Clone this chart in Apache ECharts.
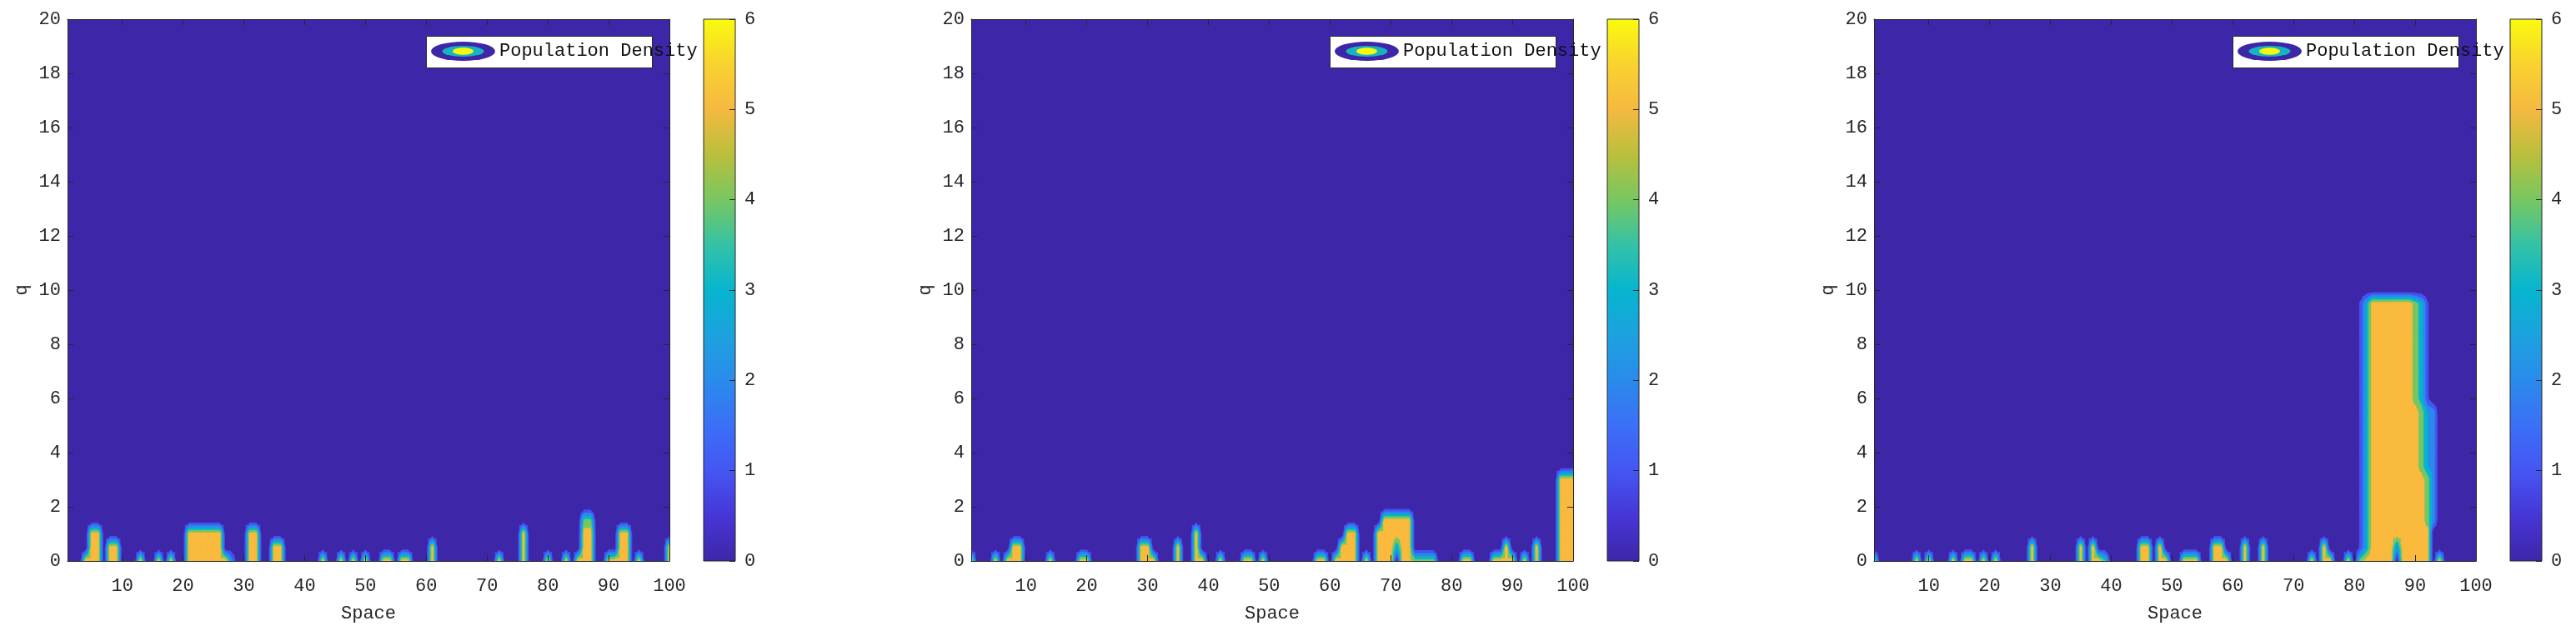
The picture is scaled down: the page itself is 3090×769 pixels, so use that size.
<!DOCTYPE html>
<html>
<head>
  <meta charset="utf-8">
  <title>Population Density</title>
  <script src="https://cdn.jsdelivr.net/npm/echarts@6/dist/echarts.min.js"></script>
</head>
<body style="margin:0;background:#fff;">
<div id="main" style="width:3090px;height:769px;"></div>
<script type="text/javascript">
  // grid of the density field: space 1..100 (step 1), q 0..20 (step 0.5)
  var spaceMin = 1, spaceMax = 100, spaceStep = 1;
  var qMin = 0, qMax = 20, qStep = 0.5;
  var spaceTicks = [10, 20, 30, 40, 50, 60, 70, 80, 90, 100];
  var qInterval = 2;
  var colorbarMin = 0, colorbarMax = 6;
  var contourLevels = [1, 2, 3, 4, 5];
  var levelColors = ['#4556F2', '#2A8BEB', '#06B5CF', '#78C760', '#FBBA3D'];

  // density columns: space position, then values at q = 0, 0.5, 1.0, ...
  var panel1Space = [4, 5, 6, 8, 9, 13, 16, 18, 21, 22, 23, 24, 25, 26, 27, 28, 31, 32, 35, 36,
    43, 46, 48, 50, 53, 54, 56, 57, 61, 72, 76, 80, 83, 85, 86, 87, 90, 91, 92, 93, 95, 100];
  var panel1Density = [
    [5.5], [5.5, 5.5, 5.5], [5.5, 5.5, 5.5], [5.5, 5.5], [5.5, 5.5], [5.5], [5.5], [5.5],
    [5.5, 5.5, 5.5], [5.5, 5.5, 5.5], [5.5, 5.5, 5.5], [5.5, 5.5, 5.5], [5.5, 5.5, 5.5], [5.5, 5.5, 5.5],
    [5.5], [2.5], [5.5, 5.5, 5.5], [5.5, 5.5, 5.5], [5.5, 5.5], [5.5, 5.5],
    [5.5], [5.5], [5.5], [5.5], [5.5], [5.5], [5.5], [5.5], [5.5, 5.5], [5.5], [5.5, 5.5, 5.5],
    [5.5], [5.5], [5.5], [5.5, 5.5, 5.5, 4.3], [5.5, 5.5, 5.5, 4.3], [5.5], [5.5],
    [5.5, 5.5, 5.5], [5.5, 5.5, 5.5], [5.5], [5.5, 5.5]
  ];

  var panel2Space = [1, 5, 7, 8, 9, 14, 19, 20, 29, 30, 31, 35, 38, 39, 42, 46, 47, 49, 58, 59,
    61, 62, 63, 64, 66, 68, 69, 70, 71, 72, 73, 74, 75, 76, 77, 82, 83, 87, 88, 89, 90, 92, 94,
    98, 99, 100];
  var panel2Density = [
    [5.5], [5.5], [5.5], [5.5, 5.5], [5.5, 5.5], [5.5], [5.5], [5.5],
    [5.5, 5.5], [5.5, 5.5], [5.5], [5.5, 5.5], [5.5, 5.5, 5.5], [5.5], [5.5], [5.5], [5.5], [5.5],
    [5.5], [5.5],
    [5.5], [5.5, 5.5], [5.5, 5.5, 5.5], [5.5, 5.5, 5.5], [5.5], [5.5, 5.5, 5.5],
    [5.5, 5.5, 5.5, 5.5], [5.5, 5.5, 5.5, 5.5], [0, 3, 5.5, 5.5], [5.5, 5.5, 5.5, 5.5], [5.5, 5.5, 5.5, 5.5],
    [4.5], [4.5], [4.5], [4.5], [5.5], [5.5], [5.5], [5.5], [5.5, 5.5], [5.5], [5.5], [5.5, 5.5],
    [5.5, 5.5, 5.5, 5.5, 5.5, 5.5, 5.5], [5.5, 5.5, 5.5, 5.5, 5.5, 5.5, 5.5], [5.5, 5.5, 5.5, 5.5, 5.5, 5.5, 5.5]
  ];

  var panel3Space = [1, 8, 10, 14, 16, 17, 19, 21, 27, 35, 37, 38, 39, 45, 46, 48, 49, 52, 53, 54,
    57, 58, 59, 62, 65, 73, 75, 76, 79, 81, 82, 83, 84, 85, 86, 87, 88, 89, 90, 91, 92, 93, 94];
  var panel3Density = [
    [5], [5.5], [5.5], [5.5], [5.5], [5.5], [5.5], [5.5], [5.5, 5.5], [5.5, 5.5], [5.5, 5.5], [5.5], [4],
    [5.5, 5.5], [5.5, 5.5], [5.5, 5.5], [5.5], [5.5], [5.5], [5.5],
    [5.5, 5.5], [5.5, 5.5], [5.5], [5.5, 5.5], [5.5, 5.5], [5.5], [5.5, 5.5], [5.5], [5.5],
    [4.5, 1.2, 1.2, 1.2, 1.2, 1.2, 1.2, 1.2, 1.2, 1.2, 1.2, 1.2, 1.2, 1.2, 1.2, 1.2, 1.2, 1.2, 1.2, 1.2],
    [5.5, 3.2, 3.2, 3.2, 3.2, 3.2, 3.2, 3.2, 3.2, 3.2, 3.2, 3.2, 3.2, 3.2, 3.2, 3.2, 3.2, 3.2, 3.2, 3.2],
    [5.5, 5.5, 5.5, 5.5, 5.5, 5.5, 5.5, 5.5, 5.5, 5.5, 5.5, 5.5, 5.5, 5.5, 5.5, 5.5, 5.5, 5.5, 5.5, 5.5],
    [5.5, 5.5, 5.5, 5.5, 5.5, 5.5, 5.5, 5.5, 5.5, 5.5, 5.5, 5.5, 5.5, 5.5, 5.5, 5.5, 5.5, 5.5, 5.5, 5.5],
    [5.5, 5.5, 5.5, 5.5, 5.5, 5.5, 5.5, 5.5, 5.5, 5.5, 5.5, 5.5, 5.5, 5.5, 5.5, 5.5, 5.5, 5.5, 5.5, 5.5],
    [5.5, 5.5, 5.5, 5.5, 5.5, 5.5, 5.5, 5.5, 5.5, 5.5, 5.5, 5.5, 5.5, 5.5, 5.5, 5.5, 5.5, 5.5, 5.5, 5.5],
    [0, 2.5, 5.5, 5.5, 5.5, 5.5, 5.5, 5.5, 5.5, 5.5, 5.5, 5.5, 5.5, 5.5, 5.5, 5.5, 5.5, 5.5, 5.5, 5.5],
    [5.5, 5.5, 5.5, 5.5, 5.5, 5.5, 5.5, 5.5, 5.5, 5.5, 5.5, 5.5, 5.5, 5.5, 5.5, 5.5, 5.5, 5.5, 5.5, 5.5],
    [5.5, 5.5, 5.5, 5.5, 5.5, 5.5, 5.5, 5.5, 5.5, 5.5, 5.5, 5.5, 5.5, 5.5, 5.5, 5.5, 5.5, 5.5, 5.5, 5.5],
    [5.5, 5.5, 5.5, 5.5, 5.5, 5.5, 5.5, 5.5, 5.5, 5.5, 5.5, 5.5, 4.5, 4.5, 4.5, 4.5, 4.5, 4.5, 4.5, 4.5],
    [5.5, 5.5, 5.5, 5.5, 5.5, 5.5, 5.5, 4.5, 4.5, 4.5, 4.5, 4.5, 3.5, 3.5, 3.5, 3.5, 3.5, 3.5, 3.5, 3.5],
    [5.5, 5.5, 5.5, 4.5, 4.5, 4.5, 4.5, 3, 3, 3, 3, 3, 1.2, 1.2, 1.2, 1.2, 1.2, 1.2, 1.2, 1.2],
    [0, 0, 0, 2.5, 2.5, 2.5, 2.5, 2.5, 2.5, 2.5, 2.5, 2.5],
    [5.5]
  ];

  var panelSpace = [panel1Space, panel2Space, panel3Space];
  var panelDensity = [panel1Density, panel2Density, panel3Density];

  // layout
  var plotLeft = [81, 1165, 2248];
  var plotTop = 23, plotW = 722, plotH = 650;
  var barGap = 41, barW = 38;
  var fontName = 'Liberation Mono';
  var ink = '#262626';

  var parulaStops = [
    [0, '#3E26A8'], [0.0833, '#4636D6'], [0.1667, '#4556F2'], [0.25, '#3B6FF7'],
    [0.3333, '#2A8BEB'], [0.4167, '#1CA2DE'], [0.5, '#06B5CF'], [0.5833, '#34C2A6'],
    [0.6667, '#78C760'], [0.75, '#BABF3C'], [0.8333, '#F5B940'], [0.9167, '#F9D22F'], [1, '#F9FB0E']
  ];

  var nx = Math.round((spaceMax - spaceMin) / spaceStep) + 1;
  var nq = Math.round((qMax - qMin) / qStep) + 1;

  function buildField(spaces, dens) {
    var f = [];
    for (var i = 0; i < nx; i++) {
      var col = [];
      for (var j = 0; j < nq; j++) col.push(0);
      f.push(col);
    }
    spaces.forEach(function (s, k) {
      var i = Math.round((s - spaceMin) / spaceStep);
      dens[k].forEach(function (v, j) { f[i][j] = v; });
    });
    return f;
  }

  function clipPoly(pts, L) {
    var out = [];
    for (var k = 0; k < pts.length; k++) {
      var a = pts[k], b = pts[(k + 1) % pts.length];
      var ain = a[2] >= L, bin = b[2] >= L;
      if (ain) out.push(a);
      if (ain !== bin) {
        var t = (L - a[2]) / (b[2] - a[2]);
        out.push([a[0] + t * (b[0] - a[0]), a[1] + t * (b[1] - a[1]), L]);
      }
    }
    return out;
  }

  function makeRender(field, L, color) {
    return function (params, api) {
      var x0 = api.value(0), q0 = api.value(1);
      var i = Math.round((x0 - spaceMin) / spaceStep), j = Math.round((q0 - qMin) / qStep);
      var x1 = x0 + spaceStep, q1 = q0 + qStep;
      var p00 = [x0, q0, field[i][j]], p10 = [x1, q0, field[i + 1][j]];
      var p11 = [x1, q1, field[i + 1][j + 1]], p01 = [x0, q1, field[i][j + 1]];
      var c = [(x0 + x1) / 2, (q0 + q1) / 2, (p00[2] + p10[2] + p11[2] + p01[2]) / 4];
      var tris = [[p00, p10, c], [p10, p11, c], [p11, p01, c], [p01, p00, c]];
      var children = [];
      tris.forEach(function (tri) {
        var poly = clipPoly(tri, L);
        if (poly.length < 3) return;
        children.push({
          type: 'polygon',
          shape: { points: poly.map(function (p) { return api.coord([p[0], p[1]]); }) },
          style: { fill: color, stroke: color, lineWidth: 0.7 }
        });
      });
      return { type: 'group', children: children };
    };
  }

  var legendSvg = "<svg xmlns='http://www.w3.org/2000/svg' width='77' height='23'>" +
    "<ellipse cx='38.5' cy='11.5' rx='38.5' ry='11.5' fill='#3E26A8'/>" +
    "<ellipse cx='38.5' cy='11.5' rx='25' ry='6.5' fill='#17B3C3'/>" +
    "<ellipse cx='38.5' cy='11.5' rx='12.5' ry='4.2' fill='#F8F80F'/></svg>";
  var legendIcon = 'image://data:image/svg+xml;charset=utf-8,' + encodeURIComponent(legendSvg);

  var labelStyle = { fontFamily: fontName, fontSize: 22, color: ink };

  var option = {
    animation: false,
    grid: [], xAxis: [], yAxis: [], series: [], legend: [], graphic: []
  };

  for (var p = 0; p < 3; p++) {
    var field = buildField(panelSpace[p], panelDensity[p]);
    var left = plotLeft[p];
    option.grid.push({ left: left, top: plotTop, width: plotW, height: plotH,
      show: true, backgroundColor: '#3E26A8', borderWidth: 0 });

    var xBase = {
      gridIndex: p, type: 'value', min: spaceMin, max: spaceMax, z: 10,
      axisLine: { onZero: false, lineStyle: { color: ink, width: 1 } },
      axisTick: { inside: true, length: 7, customValues: spaceTicks, lineStyle: { color: ink } },
      splitLine: { show: false }
    };
    option.xAxis.push(Object.assign({}, xBase, {
      position: 'bottom',
      axisLabel: Object.assign({ margin: 19, customValues: spaceTicks }, labelStyle),
      name: 'Space', nameLocation: 'middle', nameGap: 52,
      nameTextStyle: labelStyle
    }));
    option.xAxis.push(Object.assign({}, xBase, { position: 'top', axisLabel: { show: false } }));

    var yBase = {
      gridIndex: p, type: 'value', min: qMin, max: qMax, interval: qInterval, z: 10,
      axisLine: { show: true, onZero: false, lineStyle: { color: ink, width: 1 } },
      axisTick: { show: true, inside: true, length: 7, lineStyle: { color: ink } },
      splitLine: { show: false }
    };
    option.yAxis.push(Object.assign({}, yBase, {
      position: 'left',
      axisLabel: Object.assign({ margin: 8 }, labelStyle),
      name: 'q', nameLocation: 'middle', nameGap: 44,
      nameTextStyle: labelStyle
    }));
    option.yAxis.push(Object.assign({}, yBase, { position: 'right', axisLabel: { show: false } }));

    for (var k = 0; k < contourLevels.length; k++) {
      var L = contourLevels[k];
      var cells = [];
      for (var i = 0; i < nx - 1; i++) {
        for (var j = 0; j < nq - 1; j++) {
          var m = Math.max(field[i][j], field[i + 1][j], field[i][j + 1], field[i + 1][j + 1]);
          if (m >= L) cells.push([spaceMin + i * spaceStep, qMin + j * qStep]);
        }
      }
      option.series.push({
        name: 'Population Density', type: 'custom', coordinateSystem: 'cartesian2d',
        xAxisIndex: 2 * p, yAxisIndex: 2 * p, clip: true, silent: true,
        itemStyle: { color: levelColors[levelColors.length - 1] },
        renderItem: makeRender(field, L, levelColors[k]),
        data: cells
      });
    }

    // legend box and legend
    var boxRight = left + plotW - 21;
    option.graphic.push({ type: 'rect', left: boxRight - 271, top: plotTop + 20, z: 50,
      shape: { width: 271, height: 38 },
      style: { fill: '#fff', stroke: ink, lineWidth: 1 } });
    option.legend.push({
      data: ['Population Density'], left: boxRight - 265, top: plotTop + 27,
      padding: 0, itemWidth: 77, itemHeight: 23, icon: legendIcon, selectedMode: false, z: 60,
      textStyle: { fontFamily: fontName, fontSize: 22, color: '#111' }
    });
  }

  // colorbars
  for (var p = 0; p < 3; p++) {
    option.grid.push({ left: plotLeft[p] + plotW + barGap, top: plotTop, width: barW, height: plotH });
    option.xAxis.push({ gridIndex: 3 + p, type: 'value', min: 0, max: 1, show: false });
    option.yAxis.push({
      gridIndex: 3 + p, type: 'value', min: colorbarMin, max: colorbarMax, interval: 1,
      position: 'right', z: 10,
      axisLine: { show: false, onZero: false },
      axisTick: { show: true, inside: true, length: 7, lineStyle: { color: ink } },
      axisLabel: Object.assign({ margin: 11 }, labelStyle),
      splitLine: { show: false }
    });
    option.series.push({
      name: 'colorbar', type: 'custom', coordinateSystem: 'cartesian2d',
      xAxisIndex: 6 + p, yAxisIndex: 6 + p, silent: true,
      renderItem: function (params, api) {
        var a = api.coord([0, api.value(1)]);
        var b = api.coord([1, api.value(0)]);
        return {
          type: 'rect',
          shape: { x: a[0], y: a[1], width: b[0] - a[0], height: b[1] - a[1] },
          style: {
            fill: {
              type: 'linear', x: 0, y: 1, x2: 0, y2: 0,
              colorStops: parulaStops.map(function (s) { return { offset: s[0], color: s[1] }; })
            },
            stroke: ink, lineWidth: 1
          }
        };
      },
      data: [[colorbarMin, colorbarMax]]
    });
  }

  var myChart = echarts.init(document.getElementById('main'));
  myChart.setOption(option);
</script>
</body>
</html>
